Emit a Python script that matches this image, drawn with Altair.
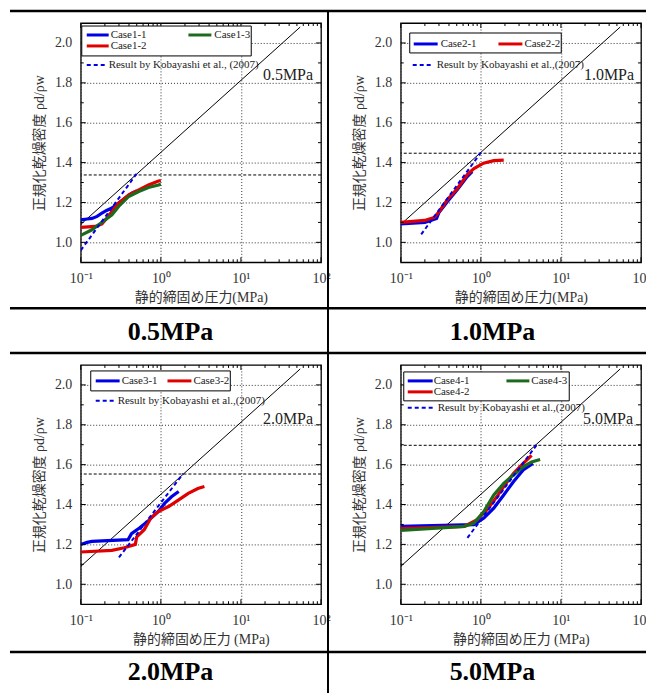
import altair as alt
import pandas as pd

SERIF = "Liberation Serif, Times New Roman, Noto Sans CJK JP, serif"
BLUE, RED, GREEN = "#0000e6", "#e00000", "#1c6b1c"

# ---------------- data ----------------
# Panel 0.5MPa
c11_x = [0.1, 0.12, 0.138, 0.16, 0.184, 0.21, 0.245, 0.297, 0.36, 0.435, 0.5]
c11_y = [1.113, 1.117, 1.12, 1.13, 1.147, 1.16, 1.172, 1.197, 1.222, 1.247, 1.258]
c12_x = [0.1, 0.152, 0.184, 0.212, 0.245, 0.297, 0.397, 0.53, 0.70, 0.935, 1.0]
c12_y = [1.075, 1.08, 1.092, 1.122, 1.155, 1.197, 1.238, 1.263, 1.288, 1.308, 1.31]
c13_x = [0.1, 0.138, 0.167, 0.203, 0.245, 0.297, 0.397, 0.53, 0.70, 0.935, 1.0]
c13_y = [1.035, 1.063, 1.088, 1.113, 1.138, 1.18, 1.23, 1.255, 1.275, 1.288, 1.292]
kob1_x = [0.1, 0.5]
kob1_y = [0.96, 1.345]
hline1 = 1.338

# Panel 1.0MPa
c21_x = [0.1, 0.2, 0.28, 0.30, 0.383, 0.51, 0.676, 0.78]
c21_y = [1.093, 1.10, 1.12, 1.15, 1.205, 1.265, 1.33, 1.355]
c22_x = [0.1, 0.198, 0.262, 0.302, 0.383, 0.51, 0.676, 0.82, 1.08, 1.45, 1.93]
c22_y = [1.10, 1.11, 1.125, 1.155, 1.215, 1.27, 1.34, 1.37, 1.397, 1.41, 1.412]
kob2_x = [0.18, 1.0]
kob2_y = [1.04, 1.45]
hline2 = 1.447

# Panel 2.0MPa
c31_x = [0.1, 0.12, 0.138, 0.39, 0.43, 0.54, 0.70, 0.93, 1.12, 1.37, 1.67]
c31_y = [1.20, 1.21, 1.215, 1.224, 1.254, 1.282, 1.319, 1.365, 1.407, 1.44, 1.465]
c32_x = [0.1, 0.245, 0.35, 0.48, 0.5, 0.62, 0.75, 0.93, 1.25, 1.67, 2.2, 2.9, 3.5]
c32_y = [1.162, 1.17, 1.183, 1.2, 1.238, 1.274, 1.332, 1.365, 1.39, 1.423, 1.456, 1.48, 1.49]
kob3_x = [0.3, 1.9]
kob3_y = [1.135, 1.555]
hline3 = 1.553

# Panel 5.0MPa
c41_x = [0.1, 0.82, 1.09, 1.45, 1.93, 2.55, 3.38, 4.47]
c41_y = [1.29, 1.299, 1.332, 1.382, 1.448, 1.514, 1.573, 1.606]
c42_x = [0.1, 0.62, 0.9, 1.2, 1.59, 1.93, 2.55, 3.38, 4.3]
c42_y = [1.279, 1.29, 1.324, 1.374, 1.44, 1.49, 1.556, 1.606, 1.647]
c43_x = [0.1, 0.62, 0.82, 1.09, 1.45, 1.93, 2.55, 3.38, 4.3, 5.5]
c43_y = [1.27, 1.29, 1.307, 1.365, 1.448, 1.506, 1.548, 1.589, 1.614, 1.626]
kob4_x = [0.68, 5.0]
kob4_y = [1.233, 1.70]
hline4 = 1.697

# reference line (solid black)
ref_x = [0.1, 55]
ref_y = [1.09, 2.08]

x_major = [0.1, 1, 10, 100]
x_minor = [k * 10.0 ** e for e in (-1, 0, 1) for k in range(2, 10)]
y_major = [1.0, 1.2, 1.4, 1.6, 1.8, 2.0]
y_minor = [1.1, 1.3, 1.5, 1.7, 1.9]

W, H = 241, 240
YTITLE = "正規化乾燥密度 ρd/ρw"

LABEL_EXPR = ("datum.value < 0.5 ? '10⁻¹' : datum.value < 5 ? '10⁰' : "
              "datum.value < 50 ? '10¹' : '10²'")


def xenc(title):
    return alt.X("x:Q", scale=alt.Scale(type="log", domain=[0.1, 100], nice=False),
                 axis=alt.Axis(values=x_major, labelExpr=LABEL_EXPR, grid=True,
                               gridDash=[1, 2], gridColor="#333", ticks=False,
                               tickSize=0, domain=False, labelFlush=False,
                               labelOverlap=False, labelPadding=9, titlePadding=5,
                               title=title))


def yenc():
    return alt.Y("y:Q", scale=alt.Scale(domain=[0.9, 2.1], nice=False, zero=False),
                 axis=alt.Axis(values=y_major, format=".1f", grid=True,
                               gridDash=[1, 2], gridColor="#333", ticks=False,
                               tickSize=0, domain=False, labelPadding=9,
                               titlePadding=8, title=YTITLE))


def series(xs, ys, xt, color, width=3, dash=None):
    df = pd.DataFrame({"x": xs, "y": ys})
    kw = dict(color=color, strokeWidth=width, clip=True)
    if dash:
        kw["strokeDash"] = dash
    return alt.Chart(df).mark_line(**kw).encode(x=xenc(xt), y=yenc())


def hrule(value, xt):
    return alt.Chart(pd.DataFrame({"y": [value]})).mark_rule(
        color="black", strokeDash=[3, 2], strokeWidth=1).encode(y=yenc())


def xticks(vals, ln, xt):
    df = pd.DataFrame({"x": vals})
    b = alt.Chart(df).mark_rule(color="black", strokeWidth=1)
    return [b.encode(x=xenc(xt), y=alt.value(H), y2=alt.value(H - ln)),
            b.encode(x=xenc(xt), y=alt.value(0), y2=alt.value(ln))]


def yticks(vals, ln):
    df = pd.DataFrame({"y": vals})
    b = alt.Chart(df).mark_rule(color="black", strokeWidth=1)
    return [b.encode(y=yenc(), x=alt.value(0), x2=alt.value(ln)),
            b.encode(y=yenc(), x=alt.value(W), x2=alt.value(W - ln))]


def pix_rule(x1, y1, x2, y2, color="black", width=1, dash=None):
    kw = dict(color=color, strokeWidth=width)
    if dash:
        kw["strokeDash"] = dash
    return alt.Chart(pd.DataFrame({"a": [0]})).mark_rule(**kw).encode(
        x=alt.value(x1), y=alt.value(y1), x2=alt.value(x2), y2=alt.value(y2))


def pix_text(txt, x, y, size, align="left", baseline="middle", weight="normal",
             color="#222"):
    return alt.Chart(pd.DataFrame({"t": [txt]})).mark_text(
        align=align, baseline=baseline, font=SERIF, fontSize=size,
        fontWeight=weight, color=color).encode(
        x=alt.value(x), y=alt.value(y), text="t:N")


def pix_box(x1, y1, x2, y2):
    return alt.Chart(pd.DataFrame({"a": [0]})).mark_rect(
        fill="white", stroke="black", strokeWidth=1).encode(
        x=alt.value(x1), y=alt.value(y1), x2=alt.value(x2), y2=alt.value(y2))


def panel(cases, kob, hline, xt, legend_box, entries, kob_leg, mpa, big, table):
    layers = []
    layers.append(series(ref_x, ref_y, xt, "black", width=1))
    layers.append(hrule(hline, xt))
    for xs, ys, col, _ in cases:
        layers.append(series(xs, ys, xt, col, width=3.2))
    layers.append(series(kob[0], kob[1], xt, BLUE, width=2, dash=[4, 3]))
    layers += xticks(x_major, 5, xt) + xticks(x_minor, 3, xt)
    layers += yticks(y_major, 5) + yticks(y_minor, 3)
    # legend
    layers.append(pix_box(*legend_box))
    for (xs, ys, col, name), (ry, sx1, sx2, tx) in zip(cases, entries):
        layers.append(pix_rule(sx1, ry, sx2, ry, color=col, width=3))
        layers.append(pix_text(name, tx, ry, 11))
    ky, kx1, kx2, ktx, ktxt = kob_leg
    layers.append(pix_rule(kx1, ky, kx2, ky, color=BLUE, width=2, dash=[4, 3]))
    layers.append(pix_text(ktxt, ktx, ky, 11))
    layers.append(pix_text(mpa[0], mpa[1], mpa[2], 16, align="right",
                           baseline="alphabetic"))
    # table lines and cell caption
    for t in table:
        layers.append(pix_rule(*t[:4], width=t[4]))
    layers.append(pix_text(big[0], big[1], big[2], 26, align="center",
                           baseline="alphabetic", weight="bold", color="black"))
    return alt.layer(*layers).properties(width=W, height=H)


XT1 = "静的締固め圧力(MPa)"
XT2 = "静的締固め圧力 (MPa)"
KOB_A = "Result by Kobayashi et al., (2007)"
KOB_B = "Result by Kobayashi et al.,(2007)"

XL = -71   # left end of the table lines (relative to the left panels)
XR = 580   # right end of the table lines
XV = 248   # vertical divider

p1 = panel(
    cases=[(c11_x, c11_y, BLUE, "Case1-1"), (c12_x, c12_y, RED, "Case1-2"),
           (c13_x, c13_y, GREEN, "Case1-3")],
    kob=(kob1_x, kob1_y), hline=hline1, xt=XT1,
    legend_box=(1, 3, 171, 33),
    entries=[(12, 6, 28, 30), (23, 6, 28, 30), (12, 108, 131, 134)],
    kob_leg=(42, 6, 26, 28, KOB_A),
    mpa=("0.5MPa", 233, 57), big=("0.5MPa", 90, 318),
    table=[(XL, -12, XR, -12, 2.5), (XL, 286, XR, 286, 2.5),
           (XL, 331, XR, 331, 2.5), (XV, -12, XV, 331, 2)])

p2 = panel(
    cases=[(c21_x, c21_y, BLUE, "Case2-1"), (c22_x, c22_y, RED, "Case2-2")],
    kob=(kob2_x, kob2_y), hline=hline2, xt=XT1,
    legend_box=(9, 10, 161, 30),
    entries=[(21, 13, 37, 40), (21, 98, 122, 124)],
    kob_leg=(42, 12, 32, 36, KOB_B),
    mpa=("1.0MPa", 234, 57), big=("1.0MPa", 92, 318),
    table=[])

p3 = panel(
    cases=[(c31_x, c31_y, BLUE, "Case3-1"), (c32_x, c32_y, RED, "Case3-2")],
    kob=(kob3_x, kob3_y), hline=hline3, xt=XT2,
    legend_box=(10, 6, 150, 26),
    entries=[(16, 15, 39, 41), (16, 87, 111, 113)],
    kob_leg=(36, 15, 35, 37, KOB_B),
    mpa=("2.0MPa", 233, 59), big=("2.0MPa", 90, 316),
    table=[(XL, 288, XR, 288, 2.5), (XV, -12, XV, 329, 2)])

p4 = panel(
    cases=[(c41_x, c41_y, BLUE, "Case4-1"), (c42_x, c42_y, RED, "Case4-2"),
           (c43_x, c43_y, GREEN, "Case4-3")],
    kob=(kob4_x, kob4_y), hline=hline4, xt=XT2,
    legend_box=(3, 7, 169, 36),
    entries=[(16, 7, 32, 33), (27, 7, 32, 33), (16, 106, 129, 131)],
    kob_leg=(43, 7, 32, 37, KOB_B),
    mpa=("5.0MPa", 233, 59), big=("5.0MPa", 92, 316),
    table=[])

chart = alt.concat(p1, p2, p3, p4, columns=2,
                   spacing={"row": 103, "column": 80}, bounds="flush").properties(
    padding={"left": 0, "top": 0, "right": -15, "bottom": 0}
).configure_view(stroke="black", strokeWidth=1.3).configure_axis(
    labelFont=SERIF, labelFontSize=14, labelColor="#333",
    titleFont=SERIF, titleFontSize=14, titleColor="#333", titleFontWeight="normal")

chart.save("out.html", embed_options={"renderer": "svg", "actions": False})
